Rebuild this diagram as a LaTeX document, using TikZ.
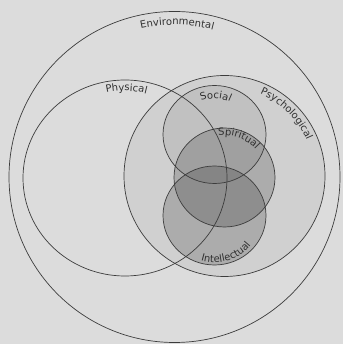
\documentclass[tikz,border=0pt]{standalone}
\usepackage{fontspec}
\setmainfont{DejaVu Sans}
\usetikzlibrary{decorations.text}
\newcommand{\lblfont}{\fontsize{10}{12}\selectfont}
\definecolor{bgc}{HTML}{DCDCDC}
\definecolor{linec}{HTML}{3C3C3C}
\definecolor{txtc}{HTML}{303030}
\tikzset{
  ring/.style={draw=linec, line width=0.7pt},
  shade1/.style={fill=black, fill opacity=0.05},
  shade2/.style={fill=black, fill opacity=0.07},
  shade3/.style={fill=black, fill opacity=0.17},
  curvelabel/.style={decorate, decoration={text along path, text align=center, text color=txtc, text={|\lblfont|#1}}}
}
\begin{document}
\begin{tikzpicture}[x=1pt,y=1pt]
\useasboundingbox (0,0) rectangle (343,344);
\fill[bgc] (0,0) rectangle (343,344);
% centres
\coordinate (env) at (174.5,167);
\coordinate (phy) at (125,166);
\coordinate (psy) at (224.5,168);
\coordinate (soc) at (214.5,209.5);
\coordinate (spi) at (224.5,166.5);
\coordinate (int) at (214.5,128.5);
% fills
\fill[shade1] (psy) circle [radius=100.5];
\fill[shade2] (soc) ellipse [x radius=51.5, y radius=49];
\fill[shade3] (spi) ellipse [x radius=50.5, y radius=49.5];
\fill[shade3] (int) ellipse [x radius=51.5, y radius=49.5];
% outlines
\draw[ring] (env) circle [radius=165.5];
\draw[ring] (phy) ellipse [x radius=102, y radius=98];
\draw[ring] (psy) circle [radius=100.5];
\draw[ring] (soc) ellipse [x radius=51.5, y radius=49];
\draw[ring] (spi) ellipse [x radius=50.5, y radius=49.5];
\draw[ring] (int) ellipse [x radius=51.5, y radius=49.5];
% labels
\path[curvelabel=Environmental] (env) ++(119:152) arc [start angle=119, end angle=59, radius=152];
\path[curvelabel=Physical] (phy) ++(115:87) arc [start angle=115, end angle=63, radius=87];
\path[curvelabel=Psychological] (psy) ++(95:89.5) arc [start angle=95, end angle=-5, radius=89.5];
\path[curvelabel=Social] (soc) ++(133:36) arc [start angle=133, end angle=43, radius=36];
\path[curvelabel=Spiritual] (spi) ++(118:42) arc [start angle=118, end angle=22, radius=42];
\path[curvelabel=Intellectual] (int) ++(-140:47) arc [start angle=-140, end angle=-6, radius=47];
\end{tikzpicture}
\end{document}
